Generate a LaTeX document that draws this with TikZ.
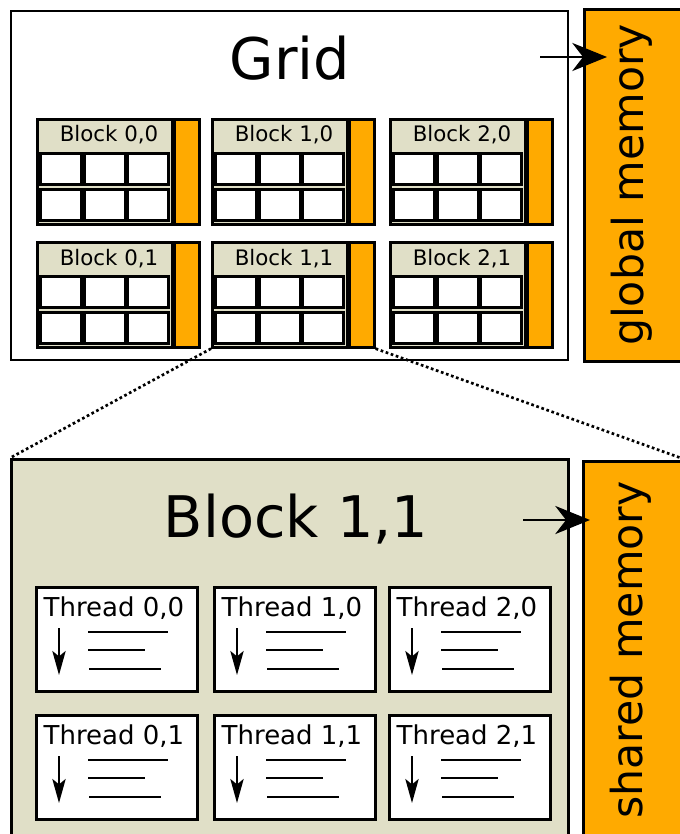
\documentclass[tikz,border=0pt]{standalone}
\usepackage{fontspec}
\setmainfont{DejaVu Sans}
\usetikzlibrary{arrows.meta,calc}
\definecolor{blockbeige}{RGB}{224,223,199}
\definecolor{memorange}{RGB}{255,170,0}
\newdimen\pxunit
\pxunit=0.75pt
\tikzset{
  bigbox/.style={draw, anchor=north west, inner sep=0},
  memory/.style={bigbox, line width=2.2pt, fill=memorange},
  memlabel/.style={rotate=90, inner sep=0, font=\fontsize{32pt}{38pt}\selectfont},
  title/.style={anchor=base, inner sep=0, font=\fontsize{43pt}{50pt}\selectfont},
  blockbox/.style={draw, line width=2pt, fill=blockbeige, anchor=north west, inner sep=0,
    minimum width=135\pxunit, minimum height=105\pxunit},
  blockbar/.style={draw, line width=2pt, fill=memorange, anchor=north west, inner sep=0,
    minimum width=25\pxunit, minimum height=105\pxunit},
  cellbox/.style={draw, line width=2.2pt, fill=white, anchor=north west, inner sep=0,
    minimum width=41\pxunit, minimum height=31\pxunit},
  blocklabel/.style={anchor=base, inner sep=0, font=\fontsize{16pt}{19pt}\selectfont},
  threadbox/.style={draw, line width=2pt, fill=white, anchor=north west, inner sep=0,
    minimum width=161\pxunit, minimum height=104\pxunit},
  threadlabel/.style={anchor=base, inner sep=0, font=\fontsize{19.5pt}{23pt}\selectfont},
  codeline/.style={line width=1.6pt},
  bigarrow/.style={line width=2.2pt, -{Stealth[length=26pt, width=21pt, inset=8pt]}},
  zoomline/.style={dotted, line width=2pt},
}

\begin{document}
\begin{tikzpicture}[x=0.75pt, y=-0.75pt]
\useasboundingbox (0,0) rectangle (680,834);

% the grid
\node[bigbox, line width=1.4pt, minimum width=557\pxunit, minimum height=349\pxunit] (grid) at (10,10) {};
\node[title] (gridlabel) at (290,80) {Grid};
\node[memory, minimum width=110\pxunit, minimum height=352\pxunit] (gmem) at (583,8) {};
\node[memlabel] (gmemlabel) at (632,185) {global memory};
\coordinate (gsrc) at (540,57);
\draw[bigarrow] (gsrc) -- ($(gsrc -| gmem.west)+(24,0)$);

\foreach \bx/\by/\i/\j in {36/118/0/0, 211/118/1/0, 389/118/2/0,
                           36/241/0/1, 211/241/1/1, 389/241/2/1} {
  \node[blockbox] (b\i\j) at (\bx,\by) {};
  \node[blockbar] (bar\i\j) at (\bx+137,\by) {};
  \node[blocklabel] (bl\i\j) at (\bx+73,\by+24) {Block \i,\j};
  \foreach \cx in {3,47,90}
    \foreach \cy in {34,70}
      \node[cellbox] (c\i\j-\cx-\cy) at (\bx+\cx,\by+\cy) {};
}

% zoom into block 1,1
\node[bigbox, line width=2.2pt, fill=blockbeige, minimum width=557\pxunit, minimum height=390\pxunit] (blk) at (10,458) {};
\node[title] (blklabel) at (296,537) {Block 1,1};
\node[memory, minimum width=110\pxunit, minimum height=390\pxunit] (smem) at (582,460) {};
\node[memlabel] (smemlabel) at (631,650) {shared memory};
\coordinate (ssrc) at (523,520);
\draw[bigarrow] (ssrc) -- ($(ssrc -| smem.west)+(8,0)$);

\coordinate (zoomend) at (681,458);
\draw[zoomline] (b11.south west) -- (blk.north west);
\draw[zoomline] (bar11.south east) -- (zoomend);

\foreach \tx/\ty/\i/\j in {35/586/0/0, 213/586/1/0, 388/586/2/0,
                           35/714/0/1, 213/714/1/1, 388/714/2/1} {
  \node[threadbox] (t\i\j) at (\tx,\ty) {};
  \node[threadlabel] (tl\i\j) at (\tx+79,\ty+30) {Thread \i,\j};
  \draw[line width=1.4pt, -{Stealth[length=18pt, width=10pt, inset=4pt]}] (\tx+24,\ty+42) -- (\tx+24,\ty+89);
  \draw[codeline] (\tx+53,\ty+46) -- (\tx+133,\ty+46);
  \draw[codeline] (\tx+53,\ty+64) -- (\tx+110,\ty+64);
  \draw[codeline] (\tx+54,\ty+83) -- (\tx+126,\ty+83);
}
\end{tikzpicture}
\end{document}
